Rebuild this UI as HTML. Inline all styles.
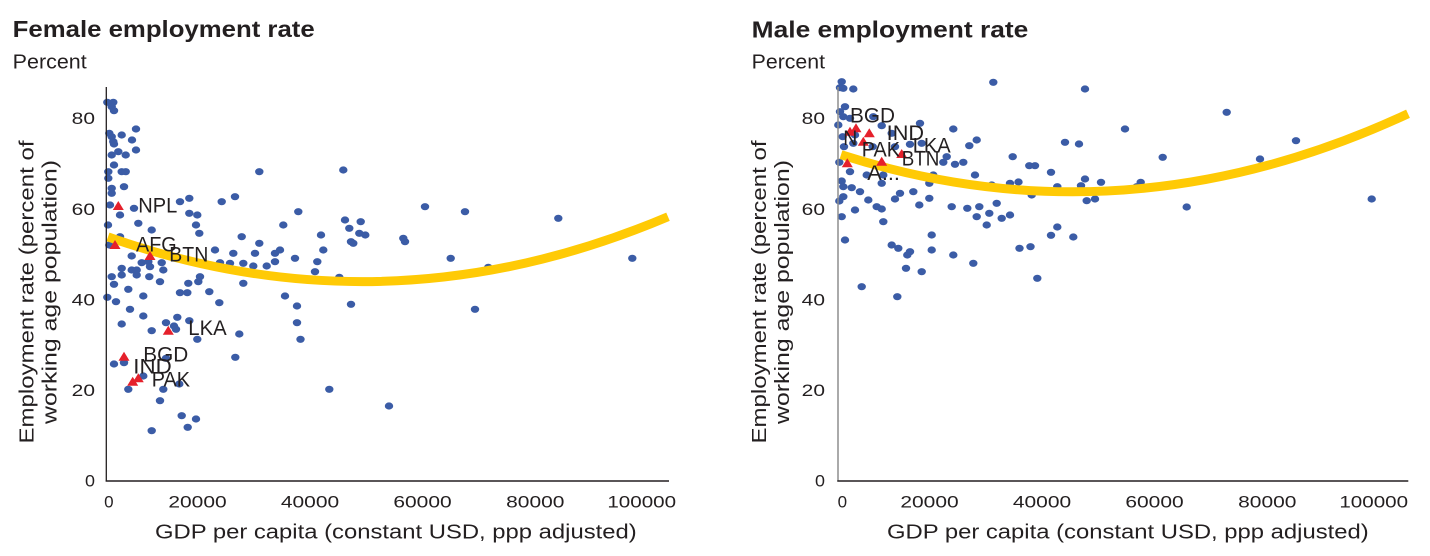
<!DOCTYPE html>
<html><head><meta charset="utf-8"><style>
html,body{margin:0;padding:0;background:#fff;width:1430px;height:556px;overflow:hidden}
svg{display:block}
text{font-family:"Liberation Sans",sans-serif;fill:#231f20}
.d{fill:#3b5ca6}
.t{fill:#e5202b}
.tk{font-size:17px}
.lb{font-size:21px}
.at{font-size:20px}
</style></head><body>
<svg width="1430" height="556" viewBox="0 0 1430 556" xmlns="http://www.w3.org/2000/svg">
<!-- Titles -->
<text x="12.7" y="37" font-size="23" font-weight="bold" textLength="302" lengthAdjust="spacingAndGlyphs">Female employment rate</text>
<text x="12.7" y="68.3" font-size="20" textLength="74" lengthAdjust="spacingAndGlyphs">Percent</text>
<text x="751.7" y="37.3" font-size="23" font-weight="bold" textLength="276.6" lengthAdjust="spacingAndGlyphs">Male employment rate</text>
<text x="751.7" y="68.3" font-size="20" textLength="73.3" lengthAdjust="spacingAndGlyphs">Percent</text>

<!-- LEFT CHART -->
<g class="tk" text-anchor="end">
<text x="95" y="124.2" textLength="23.3" lengthAdjust="spacingAndGlyphs">80</text>
<text x="95" y="215.2" textLength="23.3" lengthAdjust="spacingAndGlyphs">60</text>
<text x="95" y="305.7" textLength="23.3" lengthAdjust="spacingAndGlyphs">40</text>
<text x="95" y="396" textLength="23.3" lengthAdjust="spacingAndGlyphs">20</text>
<text x="95" y="486.5" textLength="10" lengthAdjust="spacingAndGlyphs">0</text>
</g>
<g class="tk" text-anchor="middle">
<text x="108.8" y="507.3">0</text>
<text x="197.5" y="507.3" textLength="58.3" lengthAdjust="spacingAndGlyphs">20000</text>
<text x="310" y="507.3" textLength="58.3" lengthAdjust="spacingAndGlyphs">40000</text>
<text x="422.5" y="507.3" textLength="58.3" lengthAdjust="spacingAndGlyphs">60000</text>
<text x="535.3" y="507.3" textLength="58.3" lengthAdjust="spacingAndGlyphs">80000</text>
<text x="641.7" y="507.3" textLength="68.7" lengthAdjust="spacingAndGlyphs">100000</text>
</g>
<text class="at" x="155" y="538.3" textLength="481.7" lengthAdjust="spacingAndGlyphs">GDP per capita (constant USD, ppp adjusted)</text>
<text class="at" transform="translate(33.5,292) rotate(-90)" text-anchor="middle" textLength="303" lengthAdjust="spacingAndGlyphs">Employment rate (percent of</text>
<text class="at" transform="translate(56.5,292) rotate(-90)" text-anchor="middle" textLength="264" lengthAdjust="spacingAndGlyphs">working age population)</text>

<g class="d">
<ellipse cx="107.3" cy="102.3" rx="4.2" ry="3.6"/><ellipse cx="113.3" cy="102.3" rx="4.2" ry="3.6"/><ellipse cx="111.7" cy="106.7" rx="4.2" ry="3.6"/><ellipse cx="114" cy="110.7" rx="4.2" ry="3.6"/>
<ellipse cx="136" cy="129" rx="4.2" ry="3.6"/><ellipse cx="109.3" cy="133.3" rx="4.2" ry="3.6"/><ellipse cx="111.7" cy="136.7" rx="4.2" ry="3.6"/><ellipse cx="121.7" cy="135" rx="4.2" ry="3.6"/>
<ellipse cx="113.3" cy="141.7" rx="4.2" ry="3.6"/><ellipse cx="114" cy="144" rx="4.2" ry="3.6"/><ellipse cx="132" cy="140" rx="4.2" ry="3.6"/><ellipse cx="136" cy="150" rx="4.2" ry="3.6"/>
<ellipse cx="118.3" cy="151.7" rx="4.2" ry="3.6"/><ellipse cx="111.7" cy="155" rx="4.2" ry="3.6"/><ellipse cx="125.7" cy="155" rx="4.2" ry="3.6"/><ellipse cx="114" cy="165" rx="4.2" ry="3.6"/>
<ellipse cx="108.3" cy="171.7" rx="4.2" ry="3.6"/><ellipse cx="121.7" cy="171.7" rx="4.2" ry="3.6"/><ellipse cx="125.7" cy="171.7" rx="4.2" ry="3.6"/><ellipse cx="259.3" cy="171.7" rx="4.2" ry="3.6"/>
<ellipse cx="108.3" cy="178.3" rx="4.2" ry="3.6"/><ellipse cx="124" cy="186.7" rx="4.2" ry="3.6"/><ellipse cx="111.7" cy="188.3" rx="4.2" ry="3.6"/><ellipse cx="111.7" cy="193.3" rx="4.2" ry="3.6"/>
<ellipse cx="235" cy="196.7" rx="4.2" ry="3.6"/><ellipse cx="189.3" cy="198.3" rx="4.2" ry="3.6"/><ellipse cx="180" cy="201.7" rx="4.2" ry="3.6"/><ellipse cx="221.7" cy="201.7" rx="4.2" ry="3.6"/>
<ellipse cx="110" cy="205" rx="4.2" ry="3.6"/><ellipse cx="134" cy="208.3" rx="4.2" ry="3.6"/><ellipse cx="120" cy="215" rx="4.2" ry="3.6"/><ellipse cx="189.3" cy="213.3" rx="4.2" ry="3.6"/>
<ellipse cx="197.3" cy="215" rx="4.2" ry="3.6"/><ellipse cx="298.3" cy="211.7" rx="4.2" ry="3.6"/><ellipse cx="108" cy="225" rx="4.2" ry="3.6"/><ellipse cx="138.3" cy="223.3" rx="4.2" ry="3.6"/>
<ellipse cx="196" cy="225" rx="4.2" ry="3.6"/><ellipse cx="283.3" cy="225" rx="4.2" ry="3.6"/><ellipse cx="151.7" cy="230" rx="4.2" ry="3.6"/><ellipse cx="199.3" cy="233.3" rx="4.2" ry="3.6"/>
<ellipse cx="241.7" cy="236.7" rx="4.2" ry="3.6"/><ellipse cx="120" cy="236.7" rx="4.2" ry="3.6"/><ellipse cx="109.3" cy="245" rx="4.2" ry="3.6"/><ellipse cx="259.3" cy="243.3" rx="4.2" ry="3.6"/>
<ellipse cx="215" cy="250" rx="4.2" ry="3.6"/><ellipse cx="233.3" cy="253.3" rx="4.2" ry="3.6"/><ellipse cx="255" cy="253.3" rx="4.2" ry="3.6"/><ellipse cx="275" cy="253.3" rx="4.2" ry="3.6"/>
<ellipse cx="280" cy="250" rx="4.2" ry="3.6"/><ellipse cx="131.7" cy="256" rx="4.2" ry="3.6"/><ellipse cx="295" cy="258.3" rx="4.2" ry="3.6"/><ellipse cx="141.7" cy="262.7" rx="4.2" ry="3.6"/>
<ellipse cx="148.3" cy="261.7" rx="4.2" ry="3.6"/><ellipse cx="161.7" cy="262.7" rx="4.2" ry="3.6"/><ellipse cx="121.7" cy="268.3" rx="4.2" ry="3.6"/><ellipse cx="131.7" cy="270" rx="4.2" ry="3.6"/>
<ellipse cx="136.7" cy="270" rx="4.2" ry="3.6"/><ellipse cx="150" cy="266.7" rx="4.2" ry="3.6"/><ellipse cx="163.3" cy="270" rx="4.2" ry="3.6"/><ellipse cx="220" cy="262.7" rx="4.2" ry="3.6"/>
<ellipse cx="230" cy="263.3" rx="4.2" ry="3.6"/><ellipse cx="243.3" cy="263.3" rx="4.2" ry="3.6"/><ellipse cx="253.3" cy="266" rx="4.2" ry="3.6"/><ellipse cx="266.7" cy="266" rx="4.2" ry="3.6"/>
<ellipse cx="275" cy="261.7" rx="4.2" ry="3.6"/><ellipse cx="111.7" cy="276.7" rx="4.2" ry="3.6"/><ellipse cx="121.7" cy="275" rx="4.2" ry="3.6"/><ellipse cx="136.7" cy="275" rx="4.2" ry="3.6"/>
<ellipse cx="149.3" cy="276.7" rx="4.2" ry="3.6"/><ellipse cx="200" cy="276.7" rx="4.2" ry="3.6"/><ellipse cx="198.3" cy="281.7" rx="4.2" ry="3.6"/><ellipse cx="160" cy="281.7" rx="4.2" ry="3.6"/>
<ellipse cx="188.3" cy="283.3" rx="4.2" ry="3.6"/><ellipse cx="243.3" cy="283.3" rx="4.2" ry="3.6"/><ellipse cx="114" cy="284.3" rx="4.2" ry="3.6"/>
<ellipse cx="128.3" cy="289.3" rx="4.2" ry="3.6"/><ellipse cx="107.3" cy="297.3" rx="4.2" ry="3.6"/><ellipse cx="116" cy="301.7" rx="4.2" ry="3.6"/><ellipse cx="143.3" cy="296" rx="4.2" ry="3.6"/>
<ellipse cx="180" cy="292.7" rx="4.2" ry="3.6"/><ellipse cx="187.3" cy="292.7" rx="4.2" ry="3.6"/><ellipse cx="209.3" cy="291.7" rx="4.2" ry="3.6"/><ellipse cx="285" cy="296" rx="4.2" ry="3.6"/>
<ellipse cx="219.3" cy="302.7" rx="4.2" ry="3.6"/><ellipse cx="297" cy="306" rx="4.2" ry="3.6"/><ellipse cx="130" cy="309.3" rx="4.2" ry="3.6"/><ellipse cx="143.3" cy="316" rx="4.2" ry="3.6"/>
<ellipse cx="177.3" cy="317.3" rx="4.2" ry="3.6"/><ellipse cx="189.3" cy="320.7" rx="4.2" ry="3.6"/><ellipse cx="297" cy="322.7" rx="4.2" ry="3.6"/><ellipse cx="121.7" cy="324" rx="4.2" ry="3.6"/>
<ellipse cx="166" cy="322.7" rx="4.2" ry="3.6"/><ellipse cx="174" cy="326" rx="4.2" ry="3.6"/><ellipse cx="176" cy="329.3" rx="4.2" ry="3.6"/><ellipse cx="151.7" cy="330.7" rx="4.2" ry="3.6"/>
<ellipse cx="239.3" cy="334" rx="4.2" ry="3.6"/><ellipse cx="197.3" cy="339.3" rx="4.2" ry="3.6"/><ellipse cx="300.5" cy="339.3" rx="4.2" ry="3.6"/><ellipse cx="235.3" cy="357.3" rx="4.2" ry="3.6"/>
<ellipse cx="114" cy="364" rx="4.2" ry="3.6"/><ellipse cx="124" cy="362.7" rx="4.2" ry="3.6"/><ellipse cx="166" cy="358.3" rx="4.2" ry="3.6"/><ellipse cx="143.3" cy="376" rx="4.2" ry="3.6"/>
<ellipse cx="128.3" cy="389.3" rx="4.2" ry="3.6"/><ellipse cx="163.3" cy="389.3" rx="4.2" ry="3.6"/><ellipse cx="179.3" cy="384" rx="4.2" ry="3.6"/><ellipse cx="160" cy="400.7" rx="4.2" ry="3.6"/>
<ellipse cx="181.7" cy="415.7" rx="4.2" ry="3.6"/><ellipse cx="196" cy="419" rx="4.2" ry="3.6"/><ellipse cx="187.7" cy="427.3" rx="4.2" ry="3.6"/><ellipse cx="151.7" cy="430.7" rx="4.2" ry="3.6"/>
<ellipse cx="343.3" cy="170" rx="4.2" ry="3.6"/><ellipse cx="425" cy="206.7" rx="4.2" ry="3.6"/><ellipse cx="465" cy="211.7" rx="4.2" ry="3.6"/><ellipse cx="558.3" cy="218.3" rx="4.2" ry="3.6"/>
<ellipse cx="345" cy="220" rx="4.2" ry="3.6"/><ellipse cx="360.7" cy="221.7" rx="4.2" ry="3.6"/><ellipse cx="349.3" cy="228.3" rx="4.2" ry="3.6"/><ellipse cx="359.3" cy="233.3" rx="4.2" ry="3.6"/>
<ellipse cx="365.3" cy="235" rx="4.2" ry="3.6"/><ellipse cx="321" cy="235" rx="4.2" ry="3.6"/><ellipse cx="403.3" cy="238.3" rx="4.2" ry="3.6"/><ellipse cx="405" cy="241.7" rx="4.2" ry="3.6"/>
<ellipse cx="351" cy="241.7" rx="4.2" ry="3.6"/><ellipse cx="353.3" cy="243.3" rx="4.2" ry="3.6"/><ellipse cx="323.3" cy="250" rx="4.2" ry="3.6"/><ellipse cx="317.3" cy="261.7" rx="4.2" ry="3.6"/>
<ellipse cx="450.7" cy="258.3" rx="4.2" ry="3.6"/><ellipse cx="632.3" cy="258.3" rx="4.2" ry="3.6"/><ellipse cx="315" cy="271.7" rx="4.2" ry="3.6"/><ellipse cx="339.3" cy="277.3" rx="4.2" ry="3.6"/>
<ellipse cx="488.3" cy="267.3" rx="4.2" ry="3.6"/><ellipse cx="351" cy="304.3" rx="4.2" ry="3.6"/><ellipse cx="475" cy="309.3" rx="4.2" ry="3.6"/><ellipse cx="329.3" cy="389.3" rx="4.2" ry="3.6"/>
<ellipse cx="389" cy="406" rx="4.2" ry="3.6"/>
</g>
<path d="M108,236.86 Q388,335.47 668,216.75" fill="none" stroke="#ffca05" stroke-width="9"/>
<g class="t">
<polygon points="112.8,210 123.8,210 118.3,201"/>
<polygon points="109.5,249 120.5,249 115,240"/>
<polygon points="144.5,260 155.5,260 150,251"/>
<polygon points="162.8,334.7 173.8,334.7 168.3,325.7"/>
<polygon points="118.5,360.7 129.5,360.7 124,351.7"/>
<polygon points="127.2,385.7 138.2,385.7 132.7,376.7"/>
<polygon points="132.8,382.3 143.8,382.3 138.3,373.3"/>
</g>
<g class="lb">
<text x="138.3" y="212.7" textLength="39" lengthAdjust="spacingAndGlyphs">NPL</text>
<text x="136" y="251.7" textLength="40.7" lengthAdjust="spacingAndGlyphs">AFG</text>
<text x="169.3" y="261.7" textLength="39" lengthAdjust="spacingAndGlyphs">BTN</text>
<text x="188.3" y="335" textLength="38.4" lengthAdjust="spacingAndGlyphs">LKA</text>
<text x="143.3" y="361.7" textLength="45" lengthAdjust="spacingAndGlyphs">BGD</text>
<text x="133.3" y="373.3" textLength="38.4" lengthAdjust="spacingAndGlyphs">IND</text>
<text x="151.7" y="386.7" textLength="38.3" lengthAdjust="spacingAndGlyphs">PAK</text>
</g>
<line x1="106.3" y1="87" x2="106.3" y2="481.5" stroke="#231f20" stroke-width="1.3"/>
<line x1="105.7" y1="481" x2="669" y2="481" stroke="#231f20" stroke-width="1.4"/>

<!-- RIGHT CHART -->
<g class="tk" text-anchor="end">
<text x="825" y="124.2" textLength="23.3" lengthAdjust="spacingAndGlyphs">80</text>
<text x="825" y="215.2" textLength="23.3" lengthAdjust="spacingAndGlyphs">60</text>
<text x="825" y="305.7" textLength="23.3" lengthAdjust="spacingAndGlyphs">40</text>
<text x="825" y="396" textLength="23.3" lengthAdjust="spacingAndGlyphs">20</text>
<text x="825" y="486.5" textLength="10" lengthAdjust="spacingAndGlyphs">0</text>
</g>
<g class="tk" text-anchor="middle">
<text x="842.4" y="507.3">0</text>
<text x="929.5" y="507.3" textLength="58.3" lengthAdjust="spacingAndGlyphs">20000</text>
<text x="1042" y="507.3" textLength="58.3" lengthAdjust="spacingAndGlyphs">40000</text>
<text x="1154.5" y="507.3" textLength="58.3" lengthAdjust="spacingAndGlyphs">60000</text>
<text x="1267.3" y="507.3" textLength="58.3" lengthAdjust="spacingAndGlyphs">80000</text>
<text x="1373.7" y="507.3" textLength="68.7" lengthAdjust="spacingAndGlyphs">100000</text>
</g>
<text class="at" x="887" y="538.3" textLength="481.7" lengthAdjust="spacingAndGlyphs">GDP per capita (constant USD, ppp adjusted)</text>
<text class="at" transform="translate(766,292) rotate(-90)" text-anchor="middle" textLength="303" lengthAdjust="spacingAndGlyphs">Employment rate (percent of</text>
<text class="at" transform="translate(789,292) rotate(-90)" text-anchor="middle" textLength="264" lengthAdjust="spacingAndGlyphs">working age population)</text>

<g class="d">
<ellipse cx="841.7" cy="81.7" rx="4.2" ry="3.6"/><ellipse cx="840" cy="87.7" rx="4.2" ry="3.6"/><ellipse cx="843.3" cy="88.3" rx="4.2" ry="3.6"/><ellipse cx="853.3" cy="89" rx="4.2" ry="3.6"/>
<ellipse cx="993.3" cy="82.3" rx="4.2" ry="3.6"/><ellipse cx="845" cy="106.7" rx="4.2" ry="3.6"/><ellipse cx="840" cy="111.7" rx="4.2" ry="3.6"/><ellipse cx="843.3" cy="116.7" rx="4.2" ry="3.6"/>
<ellipse cx="838.3" cy="125" rx="4.2" ry="3.6"/><ellipse cx="850" cy="118.3" rx="4.2" ry="3.6"/><ellipse cx="881.7" cy="125.7" rx="4.2" ry="3.6"/><ellipse cx="873.3" cy="116.7" rx="4.2" ry="3.6"/>
<ellipse cx="920" cy="123.3" rx="4.2" ry="3.6"/><ellipse cx="953.3" cy="129" rx="4.2" ry="3.6"/><ellipse cx="842.7" cy="136.7" rx="4.2" ry="3.6"/><ellipse cx="855" cy="135" rx="4.2" ry="3.6"/>
<ellipse cx="844" cy="146.7" rx="4.2" ry="3.6"/><ellipse cx="853.3" cy="143.3" rx="4.2" ry="3.6"/><ellipse cx="891.7" cy="133.3" rx="4.2" ry="3.6"/><ellipse cx="910" cy="144.3" rx="4.2" ry="3.6"/>
<ellipse cx="976.7" cy="140" rx="4.2" ry="3.6"/><ellipse cx="969.3" cy="145.7" rx="4.2" ry="3.6"/><ellipse cx="872.7" cy="146.7" rx="4.2" ry="3.6"/><ellipse cx="895" cy="146.7" rx="4.2" ry="3.6"/>
<ellipse cx="921.7" cy="143.3" rx="4.2" ry="3.6"/><ellipse cx="839.3" cy="162.3" rx="4.2" ry="3.6"/><ellipse cx="946.7" cy="156.7" rx="4.2" ry="3.6"/><ellipse cx="955" cy="164.3" rx="4.2" ry="3.6"/>
<ellipse cx="963.3" cy="162.3" rx="4.2" ry="3.6"/><ellipse cx="943.3" cy="162.3" rx="4.2" ry="3.6"/><ellipse cx="1012.7" cy="156.7" rx="4.2" ry="3.6"/>
<ellipse cx="850" cy="171.7" rx="4.2" ry="3.6"/><ellipse cx="866.7" cy="175" rx="4.2" ry="3.6"/><ellipse cx="883.3" cy="175" rx="4.2" ry="3.6"/><ellipse cx="933.3" cy="175" rx="4.2" ry="3.6"/>
<ellipse cx="975" cy="175" rx="4.2" ry="3.6"/><ellipse cx="841.7" cy="181" rx="4.2" ry="3.6"/><ellipse cx="843.3" cy="186.7" rx="4.2" ry="3.6"/><ellipse cx="851.7" cy="187.7" rx="4.2" ry="3.6"/>
<ellipse cx="860" cy="191.7" rx="4.2" ry="3.6"/><ellipse cx="881.7" cy="183.3" rx="4.2" ry="3.6"/><ellipse cx="929.3" cy="183.3" rx="4.2" ry="3.6"/><ellipse cx="991.7" cy="185" rx="4.2" ry="3.6"/>
<ellipse cx="1010" cy="183.3" rx="4.2" ry="3.6"/><ellipse cx="1018.5" cy="182" rx="4.2" ry="3.6"/><ellipse cx="900" cy="193.3" rx="4.2" ry="3.6"/><ellipse cx="913.3" cy="191.7" rx="4.2" ry="3.6"/>
<ellipse cx="895" cy="199" rx="4.2" ry="3.6"/><ellipse cx="843.3" cy="196.7" rx="4.2" ry="3.6"/><ellipse cx="839.3" cy="201" rx="4.2" ry="3.6"/><ellipse cx="868.3" cy="200" rx="4.2" ry="3.6"/>
<ellipse cx="929.3" cy="198.3" rx="4.2" ry="3.6"/><ellipse cx="919.3" cy="205" rx="4.2" ry="3.6"/><ellipse cx="876.7" cy="206.7" rx="4.2" ry="3.6"/><ellipse cx="881.7" cy="209" rx="4.2" ry="3.6"/>
<ellipse cx="855" cy="210" rx="4.2" ry="3.6"/><ellipse cx="951.7" cy="206.7" rx="4.2" ry="3.6"/><ellipse cx="967.3" cy="208.3" rx="4.2" ry="3.6"/><ellipse cx="979.3" cy="206.7" rx="4.2" ry="3.6"/>
<ellipse cx="996.7" cy="203.3" rx="4.2" ry="3.6"/><ellipse cx="841.7" cy="216.7" rx="4.2" ry="3.6"/><ellipse cx="883.3" cy="221.7" rx="4.2" ry="3.6"/><ellipse cx="976.7" cy="216.7" rx="4.2" ry="3.6"/>
<ellipse cx="989.3" cy="213.3" rx="4.2" ry="3.6"/><ellipse cx="1001.7" cy="218.3" rx="4.2" ry="3.6"/><ellipse cx="1010" cy="215" rx="4.2" ry="3.6"/><ellipse cx="986.7" cy="225" rx="4.2" ry="3.6"/>
<ellipse cx="845" cy="240" rx="4.2" ry="3.6"/><ellipse cx="931.7" cy="235" rx="4.2" ry="3.6"/><ellipse cx="891.7" cy="245" rx="4.2" ry="3.6"/><ellipse cx="898.3" cy="248.3" rx="4.2" ry="3.6"/>
<ellipse cx="910" cy="251.7" rx="4.2" ry="3.6"/><ellipse cx="907.3" cy="255" rx="4.2" ry="3.6"/><ellipse cx="931.7" cy="250" rx="4.2" ry="3.6"/><ellipse cx="953.3" cy="255" rx="4.2" ry="3.6"/>
<ellipse cx="1019.5" cy="248.3" rx="4.2" ry="3.6"/><ellipse cx="1030.5" cy="246.7" rx="4.2" ry="3.6"/><ellipse cx="906" cy="268.3" rx="4.2" ry="3.6"/><ellipse cx="921.7" cy="271.7" rx="4.2" ry="3.6"/>
<ellipse cx="973.3" cy="263.3" rx="4.2" ry="3.6"/><ellipse cx="861.7" cy="286.7" rx="4.2" ry="3.6"/><ellipse cx="897.3" cy="296.7" rx="4.2" ry="3.6"/>
<ellipse cx="1085" cy="89" rx="4.2" ry="3.6"/><ellipse cx="1226.7" cy="112.3" rx="4.2" ry="3.6"/><ellipse cx="1125" cy="129" rx="4.2" ry="3.6"/><ellipse cx="1065" cy="142.3" rx="4.2" ry="3.6"/>
<ellipse cx="1079" cy="144" rx="4.2" ry="3.6"/><ellipse cx="1296" cy="140.7" rx="4.2" ry="3.6"/><ellipse cx="1162.7" cy="157.3" rx="4.2" ry="3.6"/><ellipse cx="1260" cy="159" rx="4.2" ry="3.6"/>
<ellipse cx="1029.3" cy="165.7" rx="4.2" ry="3.6"/><ellipse cx="1035" cy="165.7" rx="4.2" ry="3.6"/><ellipse cx="1051" cy="172.3" rx="4.2" ry="3.6"/><ellipse cx="1085" cy="179" rx="4.2" ry="3.6"/>
<ellipse cx="1101" cy="182.3" rx="4.2" ry="3.6"/><ellipse cx="1081" cy="185.7" rx="4.2" ry="3.6"/><ellipse cx="1057.3" cy="186.7" rx="4.2" ry="3.6"/><ellipse cx="1140.7" cy="182.3" rx="4.2" ry="3.6"/>
<ellipse cx="1136.7" cy="186.7" rx="4.2" ry="3.6"/><ellipse cx="1086.7" cy="200.7" rx="4.2" ry="3.6"/><ellipse cx="1095" cy="199" rx="4.2" ry="3.6"/><ellipse cx="1031.7" cy="195" rx="4.2" ry="3.6"/>
<ellipse cx="1186.7" cy="207" rx="4.2" ry="3.6"/><ellipse cx="1371.7" cy="199" rx="4.2" ry="3.6"/><ellipse cx="1057.3" cy="227" rx="4.2" ry="3.6"/><ellipse cx="1051" cy="235.3" rx="4.2" ry="3.6"/>
<ellipse cx="1073.3" cy="237" rx="4.2" ry="3.6"/><ellipse cx="1037.3" cy="278.3" rx="4.2" ry="3.6"/>
</g>
<path d="M841,154.69 Q1124.5,245.61 1408,113.75" fill="none" stroke="#ffca05" stroke-width="9"/>
<g class="t">
<polygon points="841.8,167.3 852.8,167.3 847.3,158.3"/>
<polygon points="844.5,135.7 855.5,135.7 850,126.7"/>
<polygon points="850.5,132.3 861.5,132.3 856,123.3"/>
<polygon points="863.8,137.3 874.8,137.3 869.3,128.3"/>
<polygon points="857.8,145.7 868.8,145.7 863.3,136.7"/>
<polygon points="876.2,165.7 887.2,165.7 881.7,156.7"/>
<polygon points="896.2,158 907.2,158 901.7,149"/>
</g>
<g class="lb">
<text x="850" y="122.7" textLength="45" lengthAdjust="spacingAndGlyphs">BGD</text>
<text x="886.7" y="140" textLength="37.3" lengthAdjust="spacingAndGlyphs">IND</text>
<text x="843.3" y="145" textLength="14" lengthAdjust="spacingAndGlyphs">N</text>
<text x="861.7" y="156.7" textLength="38.3" lengthAdjust="spacingAndGlyphs">PAK</text>
<text x="912.7" y="152.7" textLength="38" lengthAdjust="spacingAndGlyphs">LKA</text>
<text x="901.7" y="165.7" textLength="37.6" lengthAdjust="spacingAndGlyphs">BTN</text>
<text x="867.3" y="180" textLength="32.7" lengthAdjust="spacingAndGlyphs">A...</text>
</g>
<line x1="838" y1="87" x2="838" y2="481.5" stroke="#8e8e8e" stroke-width="1.5"/>
<line x1="837.3" y1="481" x2="1408.3" y2="481" stroke="#231f20" stroke-width="1.4"/>
</svg>
</body></html>
